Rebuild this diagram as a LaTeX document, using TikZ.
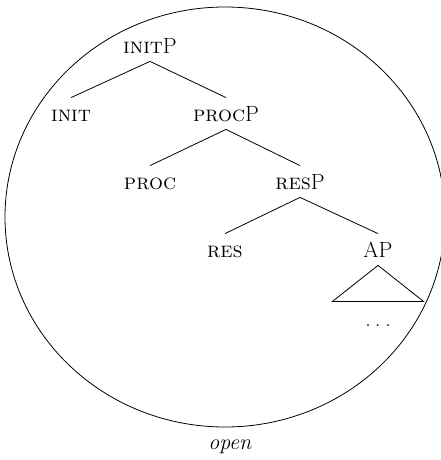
\documentclass[tikz,border=0pt]{standalone}
\usepackage{fix-cm}
\begin{document}
\begin{tikzpicture}[x=1pt,y=-1pt,line width=.8pt,
	lbl/.style={anchor=base,inner sep=8pt,text height=15pt,text depth=0pt,font=\fontsize{22}{26}\selectfont}]
	\useasboundingbox (0,0) rectangle (441,460);
	\draw (225,217) ellipse [x radius=220,y radius=210];
	\node[lbl] (initP) at (150,53) {\textsc{init}P};
	\node[lbl] (init) at (71,121) {\textsc{init}};
	\node[lbl] (procP) at (226,121) {\textsc{proc}P};
	\node[lbl] (proc) at (150,189) {\textsc{proc}};
	\node[lbl] (resP) at (300,189) {\textsc{res}P};
	\node[lbl] (res) at (225,257) {\textsc{res}};
	\node[lbl] (AP) at (378,257) {AP};
	\node[lbl] (dots) at (378,326) {.\hspace{4.5pt}.\hspace{4.5pt}.};
	\node[lbl] (open) at (230,449) {\textit{open}};
	\draw (initP.south)--(init.north) (initP.south)--(procP.north);
	\draw (procP.south)--(proc.north) (procP.south)--(resP.north);
	\draw (resP.south)--(res.north) (resP.south)--(AP.north);
	\draw (AP.south)--++(-45.5,36)--++(91,0)--cycle;
	\end{tikzpicture}
\end{document}
